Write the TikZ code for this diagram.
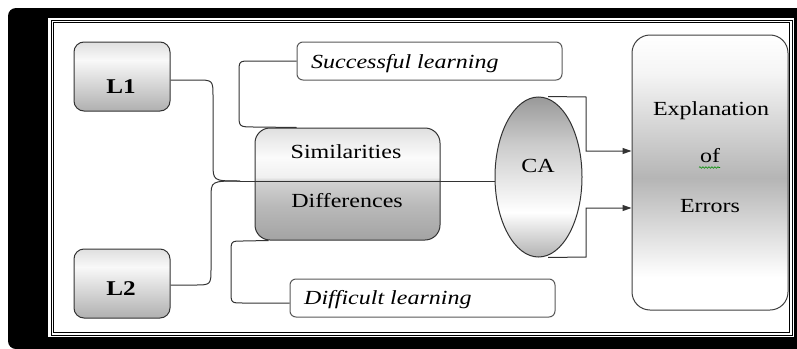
\documentclass[tikz,border=0pt]{standalone}
\usepackage{fontspec}
\setmainfont{Liberation Serif}[FakeStretch=1.2]
\usetikzlibrary{arrows.meta,shapes.geometric,decorations.pathmorphing}
\pgfdeclareverticalshading{lshade}{100bp}{color(0bp)=(gray!62); color(25bp)=(gray!62); color(62bp)=(gray!5); color(75bp)=(gray!25); color(100bp)=(gray!25)}
\pgfdeclareverticalshading{simshade}{100bp}{color(0bp)=(gray!72); color(25bp)=(gray!72); color(40bp)=(gray!55); color(51.5bp)=(gray!35); color(53bp)=(gray!12); color(62bp)=(gray!3); color(75bp)=(gray!25); color(100bp)=(gray!25)}
\pgfdeclareverticalshading{cashade}{100bp}{color(0bp)=(gray!60); color(25bp)=(gray!60); color(39bp)=(white); color(60bp)=(gray!40); color(75bp)=(gray!80); color(100bp)=(gray!80)}
\pgfdeclareverticalshading{exshade}{100bp}{color(0bp)=(white); color(25bp)=(white); color(31bp)=(white); color(49bp)=(gray!58); color(68bp)=(gray!8); color(75bp)=(white); color(100bp)=(white)}
\begin{document}
\begin{tikzpicture}[x=1pt,y=-1pt,
  txt/.style={font=\fontsize{20}{24}\selectfont, inner sep=0pt, anchor=base, text=black},
  lbox/.style={draw=black!80, line width=1pt, rounded corners=10pt, shading=lshade, minimum width=96pt, minimum height=69pt, inner sep=0pt},
  tbox/.style={draw=black!65, line width=1pt, rounded corners=6pt, fill=white, minimum width=265pt, minimum height=38pt, inner sep=0pt},
  conn/.style={draw=black!80, line width=1pt},
  arr/.style={conn, -{Triangle[length=9pt,width=6pt]}}
]
\useasboundingbox (0,0) rectangle (797,348);
% frame
\fill[black, rounded corners=8pt] (8,8) rectangle (830,349);
\fill[white] (48,18) rectangle (794,337);
\draw[line width=1pt] (51,20) rectangle (792,335);
\draw[line width=0.9pt] (53.5,22.5) rectangle (789.5,332.5);
% nodes
\node[lbox] (L1) at (122,76.5) {};
\node[lbox] (L2) at (122,283.5) {};
\node[txt, font=\fontsize{21}{24}\selectfont\bfseries] (L1t) at (121,93) {L1};
\node[txt, font=\fontsize{21}{24}\selectfont\bfseries] (L2t) at (121,295) {L2};
\node[draw=black!80, line width=1pt, rounded corners=15pt, shading=simshade, minimum width=185pt, minimum height=112pt, inner sep=0pt] (Sim) at (347.5,184) {};
\node[txt] (Simt) at (346,158) {Similarities};
\node[txt] (Dift) at (347,207) {Differences};
\node[tbox] (Succ) at (429.5,61) {};
\node[txt, anchor=base west] (Succt) at (311,68) {\itshape Successful learning};
\node[tbox] (Diff) at (422.5,298) {};
\node[txt, anchor=base west] (Difft) at (304,304) {\itshape Difficult learning};
\node[draw=black!80, line width=1pt, ellipse, shading=cashade, minimum width=87pt, minimum height=160pt, inner sep=0pt] (CA) at (538.5,177) {};
\node[txt] (CAt) at (538,172) {CA};
\node[draw=black!75, line width=1pt, rounded corners=18pt, shading=exshade, minimum width=156pt, minimum height=275pt, inner sep=0pt] (Expl) at (710,172.5) {};
\node[txt] (E1) at (711,115) {Explanation};
\node[txt] (E2) at (710,162) {of};
\node[txt] (E3) at (710,212) {Errors};
\draw[green!55!black, line width=0.6pt, decorate, decoration={snake, amplitude=0.8pt, segment length=3pt}] (699,167.5) -- (720,167.5);
% connectors
\coordinate (jn) at (240,181);
\draw[conn] ([yshift=-3.5pt]L1.east) -- (196,80) .. controls (213,80) .. (213,97) -- (213,163) .. controls (213,181) .. (jn);
\draw[conn] ([yshift=-1.5pt]L2.east) -- (194,285) .. controls (211,285) .. (211,268) -- (211,198) .. controls (211,181) .. (jn);
\draw[conn] (jn) -- (jn -| CA.west);
\draw[conn] (Succ.west) -- (251,61) .. controls (239,61) .. (239,73) -- (239,114) .. controls (239,127) .. (255,127) -- ([xshift=42pt]Sim.north west);
\draw[conn] ([xshift=14pt]Sim.south west) -- (243,241) .. controls (231,241) .. (231,253) -- (231,291) .. controls (231,303) .. (243,303) -- ([yshift=-5pt]Diff.west);
\draw[arr] ([xshift=9.5pt]CA.north) -- (586,97) |- ([yshift=21.5pt]Expl.west);
\draw[arr] ([xshift=9.5pt]CA.south) -- (586,257) |- ([yshift=-35.5pt]Expl.west);
\end{tikzpicture}
\end{document}
